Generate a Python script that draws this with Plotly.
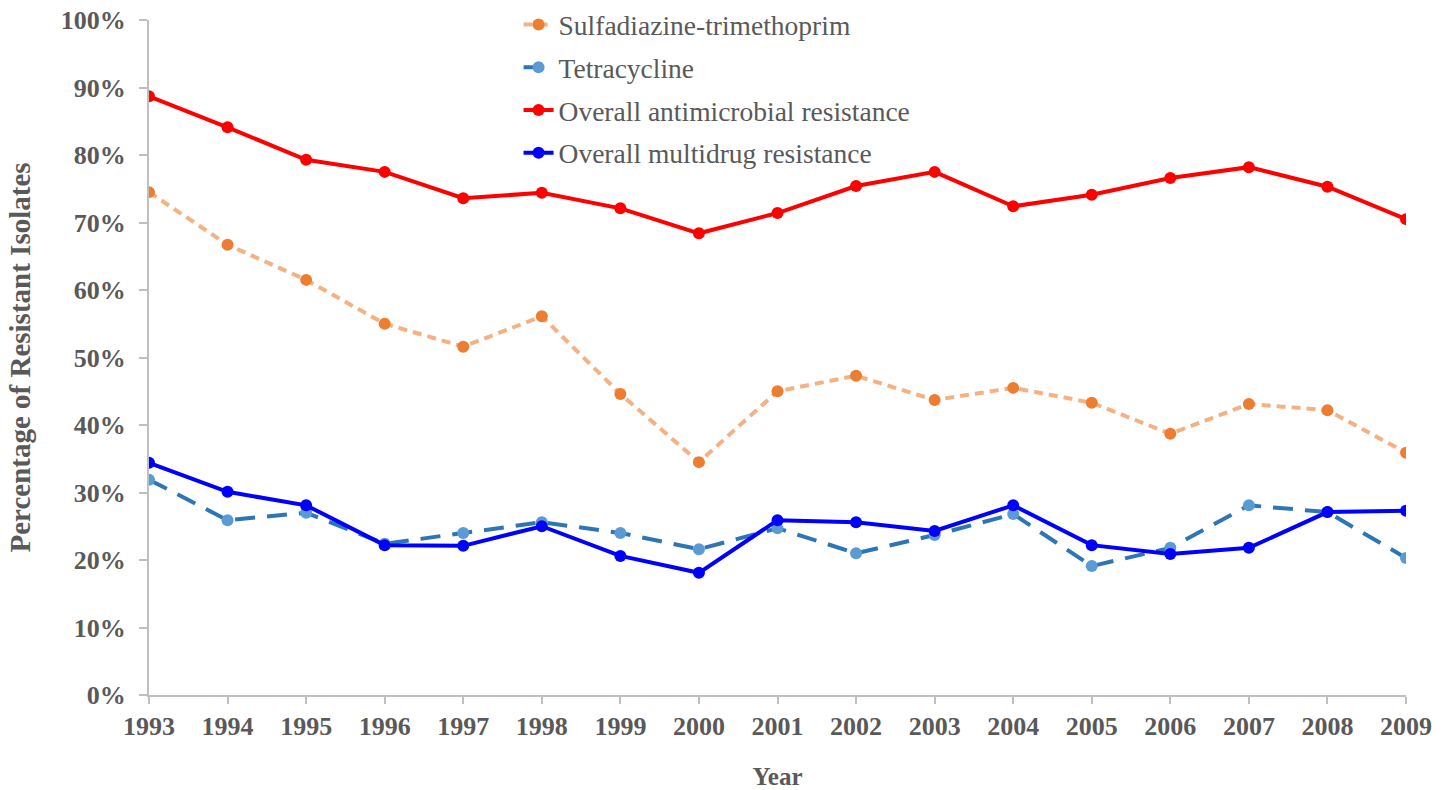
import plotly.graph_objects as go

years = list(range(1993, 2010))
sulfa = [74.5, 66.7, 61.5, 55.0, 51.6, 56.1, 44.6, 34.5, 45.0, 47.3, 43.7, 45.5, 43.3, 38.7, 43.1, 42.2, 35.9]
tetra = [31.9, 25.9, 27.0, 22.4, 24.0, 25.6, 24.0, 21.6, 24.7, 21.0, 23.7, 26.8, 19.1, 21.8, 28.1, 27.1, 20.3]
overall_amr = [88.7, 84.1, 79.3, 77.5, 73.6, 74.4, 72.1, 68.4, 71.4, 75.4, 77.5, 72.4, 74.1, 76.6, 78.2, 75.3, 70.5]
overall_mdr = [34.4, 30.1, 28.1, 22.2, 22.1, 25.0, 20.6, 18.1, 25.9, 25.6, 24.3, 28.1, 22.2, 20.9, 21.8, 27.1, 27.3]
y_ticks = [0, 10, 20, 30, 40, 50, 60, 70, 80, 90, 100]

grey = "#595959"
fig = go.Figure()
fig.add_trace(go.Scatter(x=years, y=sulfa, name="Sulfadiazine-trimethoprim", mode="lines+markers",
                         legendgroup="a",
                         line=dict(color="#F4B183", width=4, dash="9px,6px"),
                         marker=dict(color="#ED7D31", size=12)))
fig.add_trace(go.Scatter(x=years, y=tetra, name="Tetracycline", mode="lines+markers",
                         legendgroup="b",
                         line=dict(color="#2E75B6", width=4, dash="20px,12px"),
                         marker=dict(color="#5B9BD5", size=12)))
fig.add_trace(go.Scatter(x=years, y=overall_amr, name="Overall antimicrobial resistance", mode="lines+markers",
                         legendgroup="c",
                         line=dict(color="#FF0000", width=4),
                         marker=dict(color="#FF0000", size=12)))
fig.add_trace(go.Scatter(x=years, y=overall_mdr, name="Overall multidrug resistance", mode="lines+markers",
                         legendgroup="d",
                         line=dict(color="#0000FF", width=4),
                         marker=dict(color="#0000FF", size=12)))

fig.update_layout(
    width=1451, height=790,
    margin=dict(l=149, r=45, t=20, b=95, autoexpand=False),
    plot_bgcolor="white", paper_bgcolor="white",
    font=dict(family="Liberation Serif, Times New Roman, serif", color=grey),
    showlegend=True,
    legend=dict(x=0.294, y=1.0296, xanchor="left", yanchor="top",
                font=dict(size=27.5, color=grey), tracegroupgap=4, borderwidth=0,
                bgcolor="rgba(0,0,0,0)"),
    xaxis=dict(range=[1993, 2009], tickvals=years, ticktext=[str(y) for y in years],
               showgrid=False, zeroline=False, showline=True, linecolor="#BFBFBF", linewidth=2,
               ticks="outside", tickcolor="#BFBFBF", ticklen=7, tickwidth=2, automargin=False,
               ticklabeloverflow="allow",
               tickfont=dict(size=26, color=grey, weight="bold"),
               title=dict(text="Year", font=dict(size=25, color=grey, weight="bold"), standoff=27)),
    yaxis=dict(range=[0, 100], tickvals=y_ticks, ticktext=[f"{v}%" for v in y_ticks],
               showgrid=False, zeroline=False, showline=True, linecolor="#BFBFBF", linewidth=2,
               ticks="outside", tickcolor="#BFBFBF", ticklen=8, tickwidth=2, automargin=False,
               ticklabelstandoff=8, ticklabeloverflow="allow",
               tickfont=dict(size=26, color=grey, weight="bold"),
               title=dict(text="Percentage of Resistant Isolates", font=dict(size=29, color=grey, weight="bold"), standoff=22)),
)
fig.write_html("out.html", config={"displayModeBar": False},
               post_script="document.body.style.margin='0px';")
